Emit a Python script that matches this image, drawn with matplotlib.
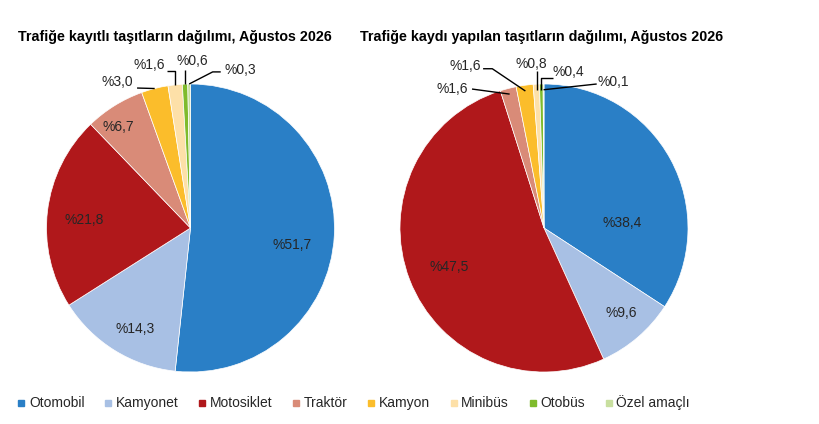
import numpy as np
import matplotlib.pyplot as plt
from matplotlib.lines import Line2D

plt.rcParams['font.family'] = ['Liberation Sans', 'DejaVu Sans']

categories = ["Otomobil", "Kamyonet", "Motosiklet", "Traktör", "Kamyon",
              "Minibüs", "Otobüs", "Özel amaçlı"]
registered = [51.7, 14.3, 21.8, 6.7, 3.0, 1.6, 0.6, 0.3]
# printed labels of the right pie
new_registered = [38.4, 9.6, 47.5, 1.6, 1.6, 0.8, 0.4, 0.1]
# slice sizes as drawn in the right pie of the source (they do not follow its labels)
new_registered_drawn = [34.2, 9.0, 51.9, 1.8, 1.9, 0.7, 0.4, 0.1]

title_left = "Trafiğe kayıtlı taşıtların dağılımı, Ağustos 2026"
title_right = "Trafiğe kaydı yapılan taşıtların dağılımı, Ağustos 2026"

colors = ["#2a7fc6", "#a8c0e4", "#b0181b", "#d98b78", "#fbbd2b",
          "#fde0a8", "#7fbb2c", "#c8df9f"]

# label positions in pie-radius units (x, y) relative to centre
labels_left = [(0.706, -0.119), (-0.385, -0.699), (-0.741, 0.056), (-0.503, 0.699),
               (-0.510, 1.014), (-0.287, 1.133), (0.014, 1.161), (0.343, 1.098)]
labels_right = [(0.542, 0.035), (0.535, -0.592), (-0.655, -0.268), (-0.634, 0.965),
                (-0.549, 1.127), (-0.085, 1.141), (0.169, 1.085), (0.479, 1.014)]

# leader lines: index -> (kind, start, elbow)
leaders_left = {
    4: ("straight", (-0.371, 0.972), None),
    5: ("hv", (-0.161, 1.091), None),
    6: ("v", (0.0, 1.098), None),
    7: ("hd", (0.210, 1.084), (0.154, 1.084)),
}
leaders_right = {
    3: ("straight", (-0.500, 0.965), None),
    4: ("hd", (-0.423, 1.106), (-0.359, 1.106)),
    5: ("v", (0.0, 1.092), None),
    6: ("hv", (0.063, 1.042), None),
    7: ("straight", (0.366, 1.000), None),
}

W, H = 820, 424


def draw_pie(ax, values, shown, label_pos, leaders, edge_r):
    wedges, _ = ax.pie(values, colors=colors, startangle=90, counterclock=False,
                       radius=1.0, wedgeprops=dict(edgecolor="white", linewidth=0.5))
    for i, w in enumerate(wedges):
        x, y = label_pos[i]
        ax.text(x, y, "%" + f"{shown[i]:.1f}".replace(".", ","), ha="center",
                va="center", fontsize=10, color="#262626")
        if i in leaders:
            kind, start, elbow = leaders[i]
            mid = np.deg2rad((w.theta1 + w.theta2) / 2)
            ex, ey = edge_r * np.cos(mid), edge_r * np.sin(mid)
            if kind == "straight":
                pts = [start, (ex, ey)]
            elif kind == "hv":
                pts = [start, (ex, start[1]), (ex, ey)]
            elif kind == "v":
                pts = [(ex, start[1]), (ex, ey)]
            else:
                pts = [start, elbow, (ex, ey)]
            xs, ys = zip(*pts)
            ax.plot(xs, ys, color="black", lw=1.0, solid_capstyle="butt")


def pie_axes(cx, cy, r, half=180):
    # cx, cy in pixels from top-left
    ax = fig.add_axes([(cx - half) / W, (H - cy - half) / H, 2 * half / W, 2 * half / H])
    lim = half / r
    ax.set_xlim(-lim, lim)
    ax.set_ylim(-lim, lim)
    ax.set_aspect("equal")
    ax.axis("off")
    return ax


fig = plt.figure(figsize=(W / 100, H / 100), dpi=100)

ax1 = pie_axes(190.5, 228, 143)
draw_pie(ax1, registered, registered, labels_left, leaders_left, 1.0)
ax2 = pie_axes(544, 228, 141.5)
draw_pie(ax2, new_registered_drawn, new_registered, labels_right, leaders_right, 0.96)

fig.text(18 / W, 1 - 37 / H, title_left, ha="left", va="center",
         fontsize=10.3, fontweight="bold", color="black")
fig.text(360 / W, 1 - 37 / H, title_right, ha="left", va="center",
         fontsize=10.3, fontweight="bold", color="black")

handles = [Line2D([], [], marker="s", linestyle="none", markersize=5,
                  markerfacecolor=c, markeredgecolor=c) for c in colors]
fig.legend(handles, categories, loc="center left", bbox_to_anchor=(18 / W, 21 / H),
           ncol=8, frameon=False, fontsize=10, handlelength=0.5, handletextpad=0.3,
           columnspacing=1.45, borderpad=0, borderaxespad=0, labelcolor="#262626")

fig.savefig("out.png", dpi=100)
